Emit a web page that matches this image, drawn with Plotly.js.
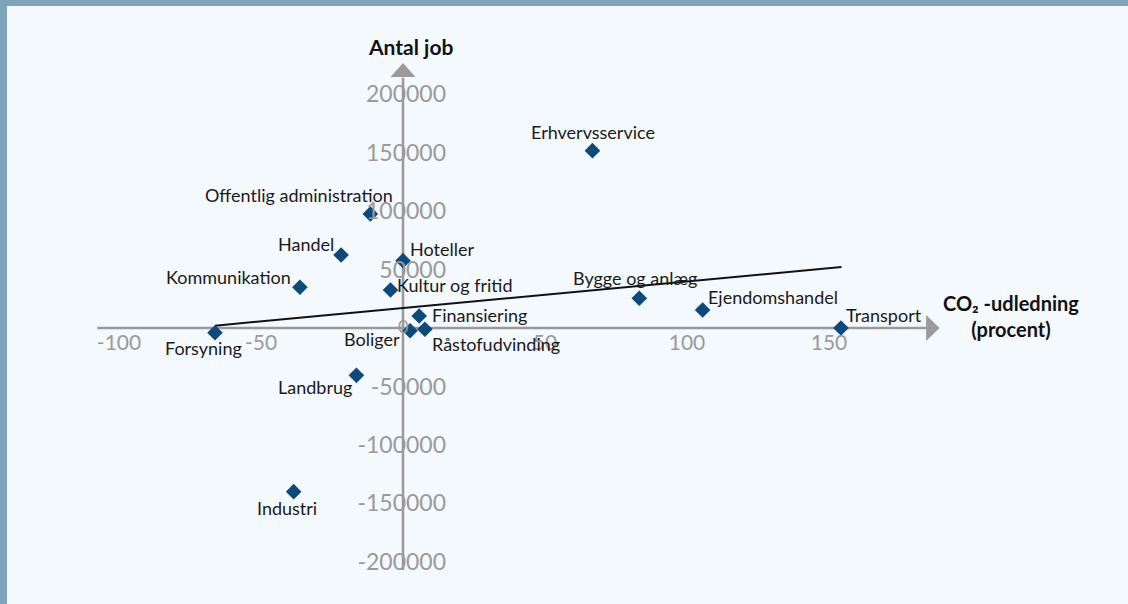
<!DOCTYPE html>
<html>
<head>
<meta charset="utf-8">
<script src="https://cdn.plot.ly/plotly-3.0.1.min.js"></script>
<style>
  html, body { margin: 0; padding: 0; background: #f4f9fd; }
  #wrap { position: relative; width: 1128px; height: 604px; overflow: hidden; }
  #chart { position: absolute; left: 0; top: 0; width: 1128px; height: 604px; }
  #topband { position: absolute; left: 0; top: 0; width: 1128px; height: 6px; background: #7fa3ba; }
  #leftband { position: absolute; left: 0; top: 0; width: 7px; height: 604px; background: #7fa3ba; }
</style>
</head>
<body>
<div id="wrap">
  <div id="chart"></div>
  <div id="topband"></div>
  <div id="leftband"></div>
</div>
<script>
// ---- data ----
const sectors = ['Erhvervsservice', 'Offentlig administration', 'Handel', 'Hoteller',
  'Kommunikation', 'Kultur og fritid', 'Finansiering', 'Boliger', 'Råstofudvinding',
  'Forsyning', 'Landbrug', 'Industri', 'Bygge og anlæg', 'Ejendomshandel', 'Transport'];
const co2Change = [66.7, -11.5, -21.8, 0, -36.3, -4.4, 5.7, 2.5, 7.7, -66.2, -16.4, -38.5, 83.2, 105.5, 154.2];
const jobChange = [151700, 97500, 62400, 57600, 34800, 32500, 10300, -2300, -1100, -4000, -40500, -140000, 25400, 15400, 0];
const trendX = [-66.2, 154.4];
const trendY = [2000, 52200];
const xTickVals = [-100, -50, 50, 100, 150];
const xTickText = ['-100', '-50', '50', '100', '150'];
const yTickVals = [-200000, -150000, -100000, -50000, 50000, 100000, 150000, 200000];
const yTickText = ['-200000', '-150000', '-100000', '-50000', '50000', '100000', '150000', '200000'];
const yTitle = 'Antal job';
const xTitle = 'CO₂ -udledning<br>(procent)';

// ---- label placement (style only) ----
const place = {
  'Erhvervsservice':          {xa: 'center', dx: 1,   dy: 19},
  'Offentlig administration': {xa: 'right',  dx: 25,  dy: 19},
  'Handel':                   {xa: 'right',  dx: -5,  dy: 11},
  'Hoteller':                 {xa: 'left',   dx: 5,   dy: 12},
  'Kommunikation':            {xa: 'right',  dx: -7,  dy: 10},
  'Kultur og fritid':         {xa: 'left',   dx: 4,   dy: 5},
  'Finansiering':             {xa: 'left',   dx: 11,  dy: 1},
  'Boliger':                  {xa: 'right',  dx: -8,  dy: -8},
  'Råstofudvinding':          {xa: 'left',   dx: 5,   dy: -15},
  'Forsyning':                {xa: 'center', dx: -11, dy: -15},
  'Landbrug':                 {xa: 'right',  dx: -2,  dy: -12},
  'Industri':                 {xa: 'center', dx: -7,  dy: -16},
  'Bygge og anlæg':           {xa: 'center', dx: -4,  dy: 20},
  'Ejendomshandel':           {xa: 'left',   dx: 3,   dy: 13},
  'Transport':                {xa: 'left',   dx: 3,   dy: 13}
};

const FONT = 'Lato, "Open Sans", sans-serif';
const GREY = '#9a9a9a';

const annotations = sectors.map((s, i) => ({
  x: co2Change[i], y: jobChange[i], xref: 'x', yref: 'y',
  text: s, showarrow: false,
  xanchor: place[s].xa, yanchor: 'middle',
  xshift: place[s].dx, yshift: place[s].dy,
  font: {family: FONT, size: 18, color: '#1a1a1a'}
}));

// axis titles
annotations.push({
  x: 0, y: 241200, xref: 'x', yref: 'y', text: yTitle, showarrow: false,
  xanchor: 'center', yanchor: 'middle', xshift: 7,
  font: {family: FONT, size: 21, color: '#111', weight: 'bold'}
});
annotations.push({
  x: 1.0624, y: 0.502, xref: 'paper', yref: 'paper', text: xTitle, showarrow: false,
  xanchor: 'center', yanchor: 'middle', align: 'center',
  font: {family: FONT, size: 20, color: '#111', weight: 'bold'}
});
// the lone "0" label near the origin
annotations.push({
  x: 0, y: 0, xref: 'x', yref: 'y', text: '0', showarrow: false,
  xanchor: 'center', yanchor: 'middle', yshift: 2,
  font: {family: FONT, size: 18, color: GREY}
});

// axis lines & arrowheads
const shapes = [
  {type: 'line', xref: 'x', yref: 'y', x0: -107.7, x1: 184.5, y0: 0, y1: 0,
   line: {color: GREY, width: 2.5}, layer: 'below'},
  {type: 'line', xref: 'x', yref: 'y', x0: 0, x1: 0, y0: -207000, y1: 214000,
   line: {color: GREY, width: 2.5}, layer: 'below'},
  {type: 'path', xref: 'x', yref: 'y', layer: 'below',
   path: 'M 184.2,11100 L 188.9,0 L 184.2,-11100 Z',
   fillcolor: GREY, line: {width: 0}},
  {type: 'path', xref: 'x', yref: 'y', layer: 'below',
   path: 'M -4.4,214700 L 0,226700 L 4.4,214700 Z',
   fillcolor: GREY, line: {width: 0}}
];

const traces = [
  {
    x: trendX, y: trendY, type: 'scatter', mode: 'lines',
    line: {color: '#111', width: 2}, hoverinfo: 'skip', showlegend: false
  },
  {
    x: co2Change, y: jobChange, text: sectors, type: 'scatter', mode: 'markers',
    marker: {symbol: 'diamond', size: 12, color: '#0b4a7a'},
    showlegend: false
  }
];

const layout = {
  width: 1128, height: 604,
  margin: {l: 91, r: 171, t: 40, b: 10},
  paper_bgcolor: '#f4f9fd', plot_bgcolor: 'rgba(0,0,0,0)',
  font: {family: FONT},
  showlegend: false,
  xaxis: {
    range: [-109.86, 195.07], tickvals: xTickVals, ticktext: xTickText,
    showgrid: false, zeroline: false, showline: false, ticks: '',
    anchor: 'free', position: 0.48014,
    tickfont: {family: FONT, size: 21, color: GREY}, fixedrange: true
  },
  yaxis: {
    range: [-227545, 246364], tickvals: yTickVals, ticktext: yTickText,
    showgrid: false, zeroline: false, showline: false, ticks: '',
    anchor: 'free', position: 0.36028, side: 'left',
    ticklabelstandoff: -43,
    tickfont: {family: FONT, size: 23, color: GREY}, fixedrange: true
  },
  shapes: shapes,
  annotations: annotations
};

Plotly.newPlot('chart', traces, layout, {displayModeBar: false, staticPlot: true});
</script>
</body>
</html>
